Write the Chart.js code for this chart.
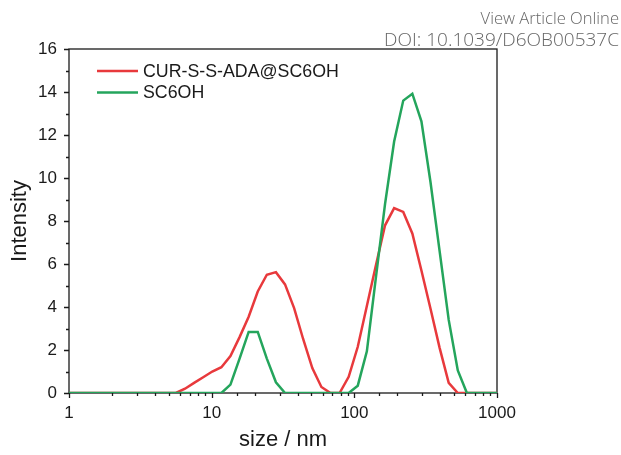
<!DOCTYPE html>
<html>
<head>
<meta charset="utf-8">
<script src="https://cdn.jsdelivr.net/npm/chart.js@4.4.1/dist/chart.umd.min.js"></script>
<style>
  html, body { margin: 0; padding: 0; background: #fff; }
  #wrap { position: relative; width: 621px; height: 455px; }
  .src { position: absolute; right: 2px; font-family: "Open Sans", sans-serif; font-weight: 300; color: #666; white-space: nowrap; }
</style>
</head>
<body>
<div id="wrap">
  <canvas id="dlsChart" width="621" height="455"></canvas>
  <div class="src" style="top:6px;font-size:16.6px;">View Article Online</div>
  <div class="src" style="top:26px;font-size:19px;">DOI: 10.1039/D6OB00537C</div>
</div>
<script>
// DLS size bins (nm)
const sizes = [0.9649, 1.117, 1.294, 1.499, 1.736, 2.010, 2.328, 2.696, 3.122, 3.615,
    4.187, 4.849, 5.615, 6.503, 7.531, 8.721, 10.10, 11.70, 13.54, 15.69,
    18.17, 21.04, 24.36, 28.21, 32.67, 37.84, 43.82, 50.75, 58.77, 68.06,
    78.82, 91.28, 105.7, 122.4, 141.8, 164.2, 190.1, 220.2, 255.0, 295.3,
    342.0, 396.1, 458.7, 531.2, 615.1, 712.4, 825.0, 955.4, 1106];

const curIntensity = [0, 0, 0, 0, 0, 0, 0, 0, 0, 0,
    0, 0, 0, 0.2, 0.47, 0.73, 1.0, 1.2, 1.72, 2.6,
    3.55, 4.72, 5.5, 5.62, 5.05, 3.95, 2.5, 1.16, 0.28, 0,
    0, 0.75, 2.15, 4.05, 5.95, 7.8, 8.6, 8.42, 7.42, 5.7,
    3.92, 2.1, 0.47, 0, 0, 0, 0, 0, 0];

const sc6ohIntensity = [0, 0, 0, 0, 0, 0, 0, 0, 0, 0,
    0, 0, 0, 0, 0, 0, 0, 0, 0.39, 1.6,
    2.84, 2.84, 1.6, 0.5, 0, 0, 0, 0, 0, 0,
    0, 0, 0.34, 1.94, 5.4, 8.8, 11.7, 13.6, 13.92, 12.64,
    9.8, 6.6, 3.4, 1.05, 0, 0, 0, 0, 0];

const seriesLabels = ['CUR-S-S-ADA@SC6OH', 'SC6OH'];
const xTickLabels = [1, 10, 100, 1000];
const yTickLabels = [0, 2, 4, 6, 8, 10, 12, 14, 16];

const font = '"Liberation Sans", Arial, sans-serif';
const ink = '#1a1a1a';

// frame + outward ticks, drawn under the lines
const frame = {
    id: 'frame',
    beforeDatasetsDraw(chart) {
        const { ctx, chartArea: a, scales: { x, y } } = chart;
        ctx.save();
        ctx.strokeStyle = ink;
        ctx.lineWidth = 1.3;
        ctx.strokeRect(a.left, a.top, a.right - a.left, a.bottom - a.top);
        ctx.beginPath();
        x.ticks.forEach(t => {
            const px = Math.round(x.getPixelForValue(t.value)) + 0.5;
            const len = xTickLabels.includes(t.value) ? 5 : 3;
            ctx.moveTo(px, a.bottom);
            ctx.lineTo(px, a.bottom + len);
        });
        y.ticks.forEach(t => {
            const py = Math.round(y.getPixelForValue(t.value)) + 0.5;
            const len = yTickLabels.includes(t.value) ? 5 : 3;
            ctx.moveTo(a.left, py);
            ctx.lineTo(a.left - len, py);
        });
        ctx.stroke();
        ctx.restore();
    }
};

// legend inside the plot, top left
const insideLegend = {
    id: 'insideLegend',
    afterDraw(chart) {
        const { ctx } = chart;
        ctx.save();
        ctx.font = '17.8px ' + font;
        ctx.textBaseline = 'middle';
        chart.data.datasets.forEach((ds, i) => {
            const yy = 71 + i * 21.5;
            ctx.strokeStyle = ds.borderColor;
            ctx.lineWidth = 2.5;
            ctx.beginPath();
            ctx.moveTo(97, yy);
            ctx.lineTo(138, yy);
            ctx.stroke();
            ctx.fillStyle = ink;
            ctx.fillText(ds.label, 143, yy + 1);
        });
        ctx.restore();
    }
};

const ctx = document.getElementById('dlsChart').getContext('2d');
new Chart(ctx, {
    type: 'line',
    data: {
        datasets: [{
            label: seriesLabels[0],
            data: sizes.map((s, i) => ({ x: s, y: curIntensity[i] })),
            borderColor: '#e8393c',
            borderWidth: 2.5,
            pointRadius: 0,
            tension: 0,
            order: 1
        }, {
            label: seriesLabels[1],
            data: sizes.map((s, i) => ({ x: s, y: sc6ohIntensity[i] })),
            borderColor: '#24a55c',
            borderWidth: 2.5,
            pointRadius: 0,
            tension: 0,
            order: 0
        }]
    },
    options: {
        responsive: false,
        animation: false,
        layout: { padding: { left: 0, top: 49, right: 124, bottom: 0 } },
        plugins: { legend: { display: false }, tooltip: { enabled: false } },
        scales: {
            x: {
                type: 'logarithmic',
                min: 1,
                max: 1000,
                border: { display: false },
                grid: { display: false, drawTicks: true, tickLength: 5 },
                ticks: {
                    autoSkip: false,
                    maxRotation: 0,
                    padding: 5,
                    color: ink,
                    font: { family: font, size: 17 },
                    callback: v => xTickLabels.includes(v) ? String(v) : ''
                },
                title: {
                    display: true,
                    text: 'size / nm',
                    color: ink,
                    font: { family: font, size: 22 },
                    padding: { top: 0, bottom: 2 }
                },
                afterFit: s => { s.height = 62; }
            },
            y: {
                min: 0,
                max: 16,
                border: { display: false },
                grid: { display: false, drawTicks: true, tickLength: 5 },
                ticks: {
                    stepSize: 1,
                    autoSkip: false,
                    padding: 7,
                    color: ink,
                    font: { family: font, size: 17 },
                    callback: v => yTickLabels.includes(v) ? String(v) : ''
                },
                title: {
                    display: true,
                    text: 'Intensity',
                    color: ink,
                    font: { family: font, size: 22 },
                    padding: { top: 7, bottom: 0 }
                },
                afterFit: s => { s.width = 69; }
            }
        }
    },
    plugins: [frame, insideLegend]
});
</script>
</body>
</html>
